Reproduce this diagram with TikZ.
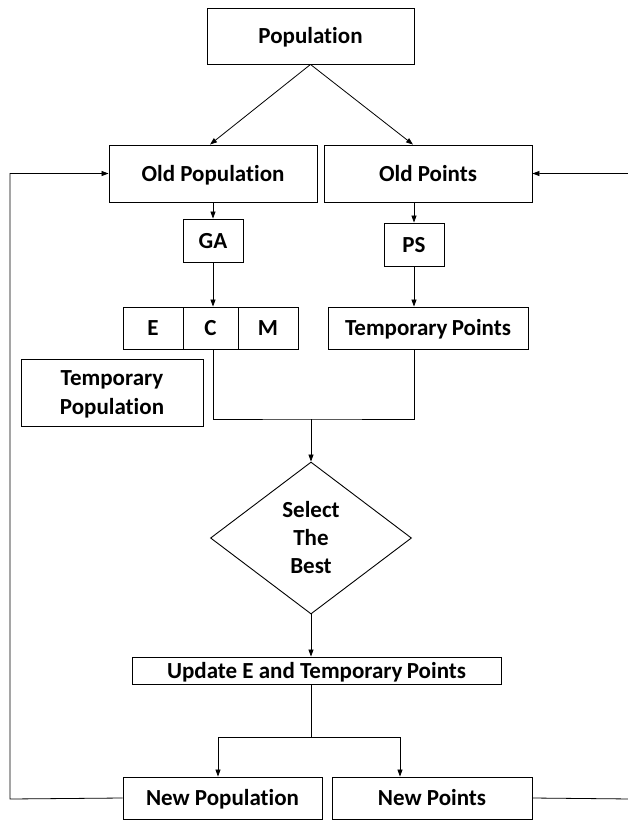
\documentclass[tikz,border=0pt]{standalone}
\usepackage{fontspec}
\setmainfont{Carlito}[Ligatures=NoCommon]
\usetikzlibrary{arrows.meta,shapes.geometric,calc}
\begin{document}
\begin{tikzpicture}[x=1pt,y=-1pt,
  box/.style={draw,line width=0.9pt,inner sep=0pt,align=center,text height=15pt,text depth=0pt,font=\fontsize{23}{29}\selectfont\bfseries},
  arr/.style={-{Triangle[length=7pt,width=5pt]},line width=0.8pt},
  ln/.style={line width=0.8pt}]
\useasboundingbox (0,0) rectangle (628,820);
\node[box,minimum width=207,minimum height=56] (pop) at (310.5,36) {Population};
\node[box,minimum width=208,minimum height=57] (oldpop) at (213,173.5) {Old Population};
\node[box,minimum width=208,minimum height=57] (oldpts) at (428,173.5) {Old Points};
\node[box,minimum width=60,minimum height=43] (ga) at (213,240.5) {GA};
\node[box,minimum width=60,minimum height=43] (ps) at (414,244.5) {PS};
\node[box,minimum width=60,minimum height=42] (e) at (153,328) {E};
\node[box,minimum width=55,minimum height=42] (c) at (210.5,328) {C};
\node[box,minimum width=60,minimum height=42] (m) at (268,328) {M};
\node[box,minimum width=200,minimum height=42] (tp) at (428,328) {Temporary\kern-1pt\ Points};
\node[box,minimum width=182,minimum height=67,text height=44pt] (tpop) at (112,392.5) {Temporary\\Population};
\node[box,shape=diamond,minimum width=201,minimum height=152,shape aspect=1.32,text height=71pt,font=\fontsize{23}{28}\selectfont\bfseries] (dia) at (311,538) {Select\\The\\Best};
\node[box,minimum width=369,minimum height=27] (upd) at (316.5,670.5) {Update E and Temporary\kern-1pt\ Points};
\node[box,minimum width=199,minimum height=42] (newpop) at (222.5,798) {New Population};
\node[box,minimum width=200,minimum height=42] (newpts) at (432,798) {New Points};

\coordinate (join) at (311,419);
\coordinate (split) at (311,737);
\coordinate (lb) at (218,737);
\coordinate (rb) at (400,737);
\coordinate (lft) at (10,799);
\coordinate (rgt) at (632,799);

\draw[arr] (pop.south) -- ([xshift=-3pt]oldpop.north);
\draw[arr] (pop.south) -- ([xshift=-15pt]oldpts.north);
\draw[arr] (oldpop.south) -- (ga.north);
\draw[arr] (ps.north |- oldpts.south) -- (ps.north);
\draw[arr] (ga.south) -- (ga.south |- c.north);
\draw[arr] (ps.south) -- (ps.south |- tp.north);
\draw[ln] (ga.south |- c.south) |- (join) -| (ps.south |- tp.south);
\draw[arr] (join) -- (dia.north);
\draw[arr] (dia.south) -- (dia.south |- upd.north);
\draw[ln] (split |- upd.south) -- (split);
\draw[ln] (lb) -- (rb);
\draw[arr] (lb) -- (lb |- newpop.north);
\draw[arr] (rb) -- (rb |- newpts.north);
\draw[arr] (newpop.west) -- (lft) |- (oldpop.west);
\draw[arr] (newpts.east) -- (rgt) |- (oldpts.east);
\end{tikzpicture}
\end{document}
